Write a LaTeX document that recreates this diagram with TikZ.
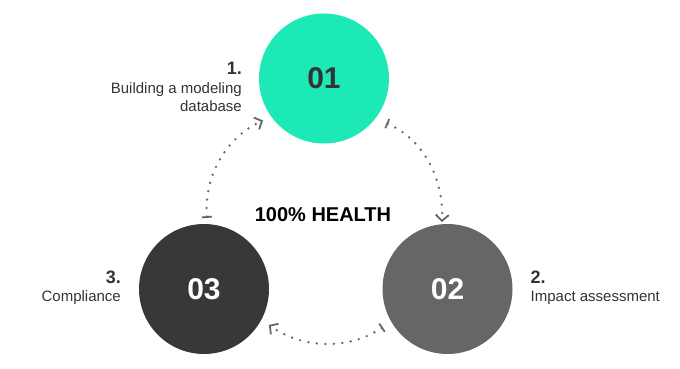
\documentclass[tikz,border=0pt]{standalone}
\usepackage{fontspec}
\setmainfont{Liberation Sans}
\usepackage{tikz}
\usetikzlibrary{arrows.meta}

\definecolor{verde}{HTML}{1DE9B6}
\definecolor{cinza}{HTML}{666666}
\definecolor{escuro}{HTML}{383838}
\definecolor{texto}{HTML}{333333}

\begin{document}
\begin{tikzpicture}[x=1pt, y=1pt, >=Stealth,
    etapa/.style={circle, minimum size=130pt, inner sep=0pt, font=\fontsize{30}{30}\selectfont\bfseries},
    numero/.style={inner sep=0pt, text=texto, font=\fontsize{18}{18}\selectfont\bfseries},
    legenda/.style={inner sep=0pt, text=texto, align=left, font=\fontsize{15}{18}\selectfont},
    ciclo/.style={draw=cinza, line width=2.6pt, line cap=round, dash pattern=on 0pt off 8.5pt,
      {Bar[width=10pt, line width=1.8pt]}-{Straight Barb[length=6pt, width=13pt, line width=1.8pt]}}]

      % Margens da figura
      \useasboundingbox (0,0) rectangle (680,368);

      % Circulos das etapas
      \node[etapa, fill=verde, text=texto] (c01) at (324,289.5) {01};
      \node[etapa, fill=cinza, text=white] (c02) at (447.5,79) {02};
      \node[etapa, fill=escuro, text=white] (c03) at (204,79) {03};

      % Texto central
      \node[inner sep=0pt, text=black, font=\fontsize{20}{20}\selectfont\bfseries] (saude) at (323,153) {100\% HEALTH};

      % Legenda da etapa 1 (esquerda, acima)
      \node[numero, anchor=east] (n1) at (242,300) {1.};
      \node[legenda, align=right, anchor=east] (t1) at (242,271) {Building a modeling\\database};

      % Legenda da etapa 2 (direita)
      \node[numero, anchor=west] (n2) at (530.5,91) {2.};
      \node[legenda, anchor=west] (t2) at (530.5,70.5) {Impact assessment};

      % Legenda da etapa 3 (esquerda)
      \node[numero, anchor=east] (n3) at (121,91) {3.};
      \node[legenda, anchor=east] (t3) at (121,70.5) {Compliance};

      % Setas pontilhadas do ciclo
      \draw[ciclo, shorten <=12pt, shorten >=2pt] (c01.-38) to[bend left=35] (c02.95);
      \draw[ciclo, shorten <=10pt, shorten >=9pt] (c02.-150) to[bend left=35] (c03.-28);
      \draw[ciclo, shorten <=6pt, shorten >=9pt] (c03.87) to[bend left=35] (c01.216);

    \end{tikzpicture}
\end{document}
